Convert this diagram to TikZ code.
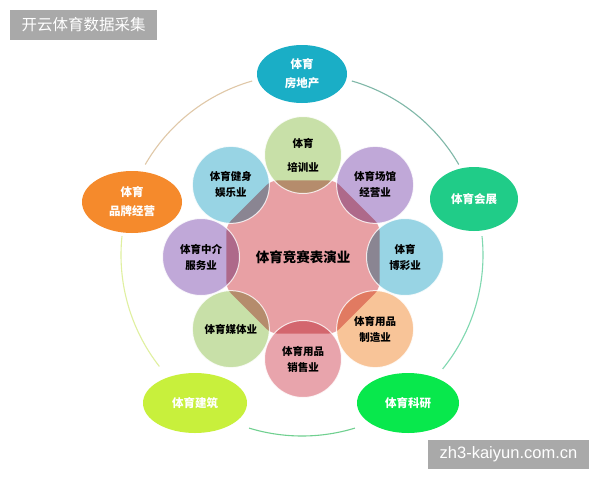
\documentclass[tikz,border=0pt]{standalone}
\usepackage{fontspec}
\newfontfamily\cjk{Noto Sans CJK SC}
\newfontfamily\latsans{Liberation Sans}
\usetikzlibrary{calc}
\definecolor{cTop}{HTML}{1AAEC6}
\definecolor{cLeft}{HTML}{F58A2C}
\definecolor{cRight}{HTML}{20CC88}
\definecolor{cBL}{HTML}{C8F03C}
\definecolor{cBR}{HTML}{08E84C}
\definecolor{cGreen}{HTML}{C8E0A8}
\definecolor{cPurple}{HTML}{C0A8D8}
\definecolor{cBlue}{HTML}{98D4E4}
\definecolor{cPeach}{HTML}{F8C498}
\definecolor{cPinkC}{HTML}{E8A4AC}
\definecolor{cOct}{HTML}{E8A0A4}
\definecolor{aTL}{HTML}{E0C8A8}
\definecolor{aTR}{HTML}{80B8A8}
\definecolor{aLL}{HTML}{E0F0A0}
\definecolor{aRL}{HTML}{80D8B0}
\definecolor{aB}{HTML}{70D090}
\definecolor{wmark}{HTML}{A9A9A9}
\tikzset{
  otext/.style={text=white, align=center, font=\cjk\bfseries\fontsize{11.5}{19}\selectfont},
  ctext/.style={text=black, align=center, font=\cjk\bfseries\fontsize{10.5}{16}\selectfont},
  arcline/.style={line width=1.1pt},
}
\begin{document}
\begin{tikzpicture}[x=1pt,y=1pt]
\useasboundingbox (0,0) rectangle (600,-480);
\fill[white] (0,0) rectangle (600,-480);
% outer ring arcs
\coordinate (ring) at (302,-255);
\draw[arcline, aTL] (ring) ++(106:181) arc[start angle=106, end angle=150, radius=181];
\draw[arcline, aTR] (ring) ++(74:181) arc[start angle=74, end angle=30, radius=181];
\draw[arcline, aRL] (ring) ++(6:181) arc[start angle=6, end angle=-39, radius=181];
\draw[arcline, aB] (ring) ++(-73:181) arc[start angle=-73, end angle=-107, radius=181];
\draw[arcline, aLL] (ring) ++(174:181) arc[start angle=174, end angle=218, radius=181];
% outer ellipses
\fill[cTop] (302,-74) ellipse[x radius=45, y radius=29];
\fill[cLeft] (132,-202) ellipse[x radius=50, y radius=31];
\fill[cRight] (474,-199) ellipse[x radius=44, y radius=32];
\fill[cBL] (195,-403) ellipse[x radius=52, y radius=30];
\fill[cBR] (408,-403) ellipse[x radius=51, y radius=30];
\node[otext] (otop) at (302,-74) {体育\\房地产};
\node[otext] (oleft) at (132,-202) {体育\\品牌经营};
\node[otext] (oright) at (474,-199) {体育会展};
\node[otext] (obl) at (195,-403) {体育建筑};
\node[otext] (obr) at (408,-403) {体育科研};
% central octagon
\coordinate (C) at (303,-257);
\fill[cOct, rounded corners=7pt] ($(C)+(22.5:83)$) -- ($(C)+(67.5:83)$) -- ($(C)+(112.5:83)$) -- ($(C)+(157.5:83)$) -- ($(C)+(202.5:83)$) -- ($(C)+(247.5:83)$) -- ($(C)+(292.5:83)$) -- ($(C)+(337.5:83)$) -- cycle;
% circles
\foreach \a/\c in {90/cGreen,45/cPurple,0/cBlue,-45/cPeach,-90/cPinkC,-135/cGreen,180/cPurple,135/cBlue}{
  \fill[\c, blend mode=multiply] ($(C)+(\a:102)$) circle[radius=38.5];
  \draw[white, line width=1pt, opacity=0.8] ($(C)+(\a:102)$) circle[radius=38.5];
}
\node[text=black, font=\cjk\bfseries\fontsize{13.5}{16}\selectfont] (center) at (C) {体育竞赛表演业};
\node[ctext, font=\cjk\bfseries\fontsize{10.5}{24}\selectfont] (n90) at ($(C)+(90:102)$) {体育\\培训业};
\node[ctext] (n45) at ($(C)+(45:102)$) {体育场馆\\经营业};
\node[ctext] (n0) at ($(C)+(0:102)$) {体育\\博彩业};
\node[ctext] (n315) at ($(C)+(-45:102)$) {体育用品\\制造业};
\node[ctext] (n270) at ($(C)+(-90:102)$) {体育用品\\销售业};
\node[ctext] (n225) at ($(C)+(-135:102)$) {体育媒体业};
\node[ctext] (n180) at ($(C)+(180:102)$) {体育中介\\服务业};
\node[ctext] (n135) at ($(C)+(135:102)$) {体育健身\\娱乐业};
% watermarks
\fill[wmark] (10,-10) rectangle (157,-40);
\node[text=white, font=\cjk\fontsize{15.5}{18}\selectfont] (wm1) at (83.5,-25) {开云体育数据采集};
\fill[wmark] (428,-440) rectangle (589,-469);
\node[text=white, font=\latsans\fontsize{16.5}{18}\selectfont] (wm2) at (508.5,-454.5) {zh3-kaiyun.com.cn};
\end{tikzpicture}
\end{document}
